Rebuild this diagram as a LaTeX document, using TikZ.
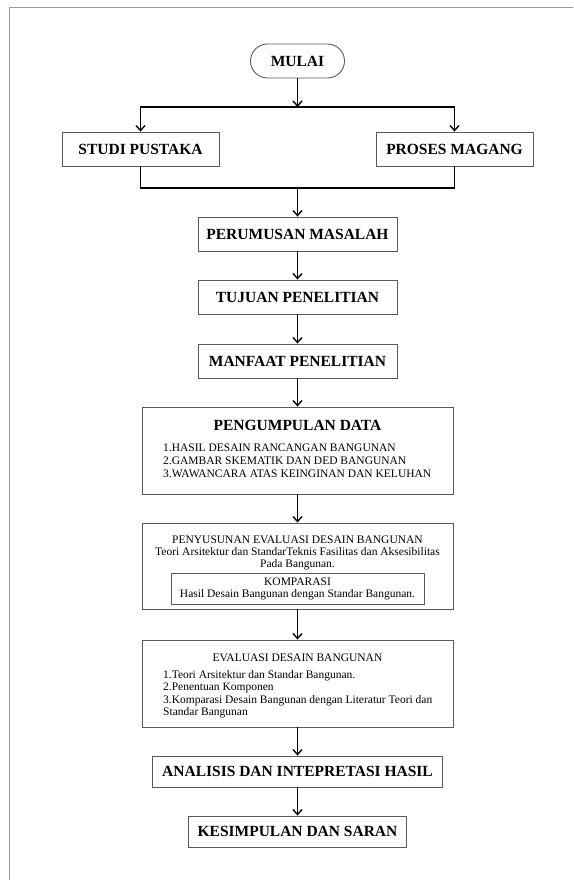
\documentclass[tikz,border=0pt]{standalone}
\usepackage{fontspec}
\setmainfont{Liberation Serif}
\usetikzlibrary{arrows.meta}

\begin{document}
\begin{tikzpicture} [x=1pt, y=-1pt, >={Straight Barb[length=5pt, width=9pt]},
	kotak/.style={draw=black!65, line width=0.9pt, inner sep=0pt},
	judul/.style={font=\bfseries\fontsize{15.5}{18}\selectfont},
	isi/.style={font=\fontsize{11.5}{12.6}\selectfont, inner sep=0pt},
	panah/.style={->, line width=1.4pt},
	garis/.style={line width=1.4pt}]
			\useasboundingbox (0,0) rectangle (573,880);
			%%% Bingkai
			\draw[black!40, line width=1.5pt] (573,7.5) -- (9.5,7.5) -- (9.5,880);
			%%% Kotak atas
			\node[kotak, judul, rounded corners=17pt, minimum width=94pt, minimum height=34pt] (mulai) at (297.5,61) {MULAI};
			\node[kotak, judul, minimum width=157pt, minimum height=34pt] (studi) at (140.5,149) {STUDI PUSTAKA};
			\node[kotak, judul, minimum width=157pt, minimum height=34pt] (magang) at (454.5,149) {PROSES MAGANG};
			\node[kotak, judul, minimum width=199pt, minimum height=34pt] (rumusan) at (297.5,234) {PERUMUSAN MASALAH};
			\node[kotak, judul, minimum width=199pt, minimum height=34pt] (tujuan) at (297.5,297) {TUJUAN PENELITIAN};
			\node[kotak, judul, minimum width=199pt, minimum height=34pt] (manfaat) at (297.5,361) {MANFAAT PENELITIAN};
			%%% Pengumpulan data
			\node[kotak, minimum width=311pt, minimum height=87pt] (kumpul) at (297.5,450.5) {};
			\node[judul, anchor=base, inner sep=0pt] (kumpulJ) at (297.5,430) {PENGUMPULAN DATA};
			\node[isi, align=left, anchor=north west] (kumpulI) at (163,444) {1.HASIL DESAIN RANCANGAN BANGUNAN\\2.GAMBAR SKEMATIK DAN DED BANGUNAN\\3.WAWANCARA ATAS KEINGINAN DAN KELUHAN};
			%%% Penyusunan evaluasi
			\node[kotak, minimum width=311pt, minimum height=86pt] (susun) at (297.5,566) {};
			\node[isi, align=center, anchor=north, font=\fontsize{11.5}{12}\selectfont] (susunI) at (297.5,536) {PENYUSUNAN EVALUASI DESAIN BANGUNAN\\Teori Arsitektur dan StandarTeknis Fasilitas dan Aksesibilitas\\Pada Bangunan.};
			\node[kotak, minimum width=253pt, minimum height=30.5pt] (komparasi) at (297.5,588.7) {};
			\node[isi, align=center, anchor=north, font=\fontsize{11.5}{11.4}\selectfont] (komparasiI) at (297.5,577.8) {KOMPARASI\\Hasil Desain Bangunan dengan Standar Bangunan.};
			%%% Evaluasi desain
			\node[kotak, minimum width=311pt, minimum height=87pt] (evaluasi) at (297.5,683.5) {};
			\node[isi, anchor=base] (evaluasiJ) at (297.5,661) {EVALUASI DESAIN BANGUNAN};
			\node[isi, align=left, anchor=north west] (evaluasiI) at (163,670) {1.Teori Arsitektur dan Standar Bangunan.\\2.Penentuan Komponen\\3.Komparasi Desain Bangunan dengan Literatur Teori dan\\Standar Bangunan};
			%%% Kotak bawah
			\node[kotak, judul, minimum width=290pt, minimum height=31pt] (analisis) at (297.5,771.5) {ANALISIS DAN INTEPRETASI HASIL};
			\node[kotak, judul, minimum width=218pt, minimum height=31pt] (simpulan) at (297.5,831.5) {KESIMPULAN DAN SARAN};
			%%% Percabangan
			\coordinate (cabang) at (297.5,107);
			\coordinate (gabung) at (297.5,188);
			\draw[panah] (mulai) -- (cabang);
			\draw[panah] (cabang) -| (studi.north);
			\draw[panah] (cabang) -| (magang.north);
			\draw[garis] (studi.south) |- (gabung);
			\draw[garis] (magang.south) |- (gabung);
			\draw[panah] (gabung) -- (rumusan);
			%%% Panah
			\draw[panah] (rumusan) -- (tujuan);
			\draw[panah] (tujuan) -- (manfaat);
			\draw[panah] (manfaat) -- (kumpul);
			\draw[panah] (kumpul) -- (susun);
			\draw[panah] (susun) -- (evaluasi);
			\draw[panah] (evaluasi) -- (analisis);
			\draw[panah] (analisis) -- (simpulan);
		\end{tikzpicture}
\end{document}
